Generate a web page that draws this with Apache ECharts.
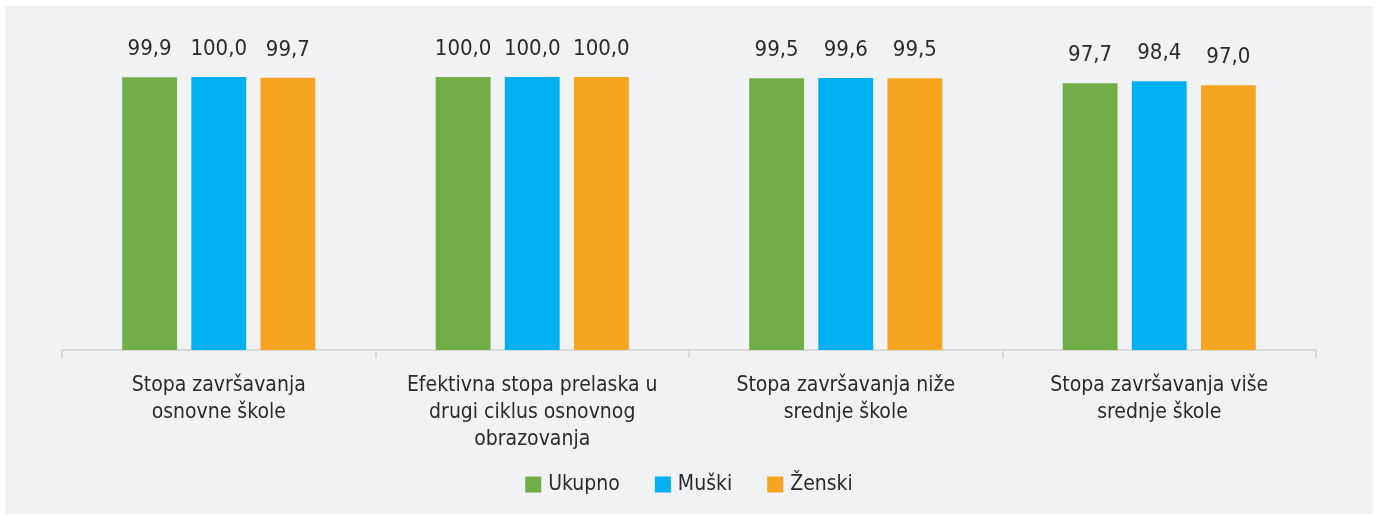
<!DOCTYPE html>
<html>
<head>
<meta charset="utf-8">
<script src="https://cdn.jsdelivr.net/npm/echarts@6/dist/echarts.min.js"></script>
<style>
    html, body { margin: 0; padding: 0; background: #ffffff; }
    .chart {
        position: absolute;
        left: 5px;
        top: 6px;
        width: 1368px;
        height: 508px;
        background: #f1f2f4;
    }
</style>
</head>
<body>
<div class="chart"></div>
<script>
// podaci
var categories = [
    "Stopa završavanja\nosnovne škole",
    "Efektivna stopa prelaska u\ndrugi ciklus osnovnog\nobrazovanja",
    "Stopa završavanja niže\nsrednje škole",
    "Stopa završavanja više\nsrednje škole"
];
var ukupno = [99.9, 100.0, 99.5, 97.7];
var muski = [100.0, 100.0, 99.6, 98.4];
var zenski = [99.7, 100.0, 99.5, 97.0];

var fontName = "'DejaVu Sans Condensed', 'Liberation Sans Narrow', sans-serif";
var textColor = "#2b2b2b";

var myChart = echarts.init(document.querySelector(".chart"));

function makeSeries(name, data, color) {
    return {
        name: name,
        type: "bar",
        data: data,
        barWidth: "17.5%",
        barGap: "26%",
        itemStyle: { color: color },
        label: {
            show: true,
            position: "top",
            distance: 17,
            fontFamily: fontName,
            fontSize: 22,
            color: textColor,
            formatter: function (p) {
                return p.value.toFixed(1).replace(".", ",");
            }
        }
    };
}

var option = {
    animation: false,
    textStyle: { fontFamily: fontName },
    legend: {
        bottom: 14,
        left: "center",
        itemWidth: 16,
        itemHeight: 16,
        itemGap: 35,
        icon: "rect",
        textStyle: { fontFamily: fontName, fontSize: 21, color: textColor, padding: [0, 0, 0, 2] },
        data: ["Ukupno", "Muški", "Ženski"]
    },
    grid: {
        left: 57,
        right: 57,
        top: 71,
        bottom: 164
    },
    xAxis: {
        type: "category",
        data: categories,
        axisLine: { lineStyle: { color: "#d4d2d2", width: 1.5 } },
        axisTick: { show: true, length: 8, lineStyle: { color: "#d4d2d2", width: 1.5 } },
        axisLabel: {
            interval: 0,
            margin: 22,
            fontFamily: fontName,
            fontSize: 21,
            lineHeight: 27,
            color: textColor
        }
    },
    yAxis: {
        type: "value",
        min: 0,
        max: 100,
        show: false,
        splitLine: { show: false }
    },
    series: [
        makeSeries("Ukupno", ukupno, "#70ad47"),
        makeSeries("Muški", muski, "#00b0f0"),
        makeSeries("Ženski", zenski, "#f7a520")
    ]
};

myChart.setOption(option);
</script>
</body>
</html>
